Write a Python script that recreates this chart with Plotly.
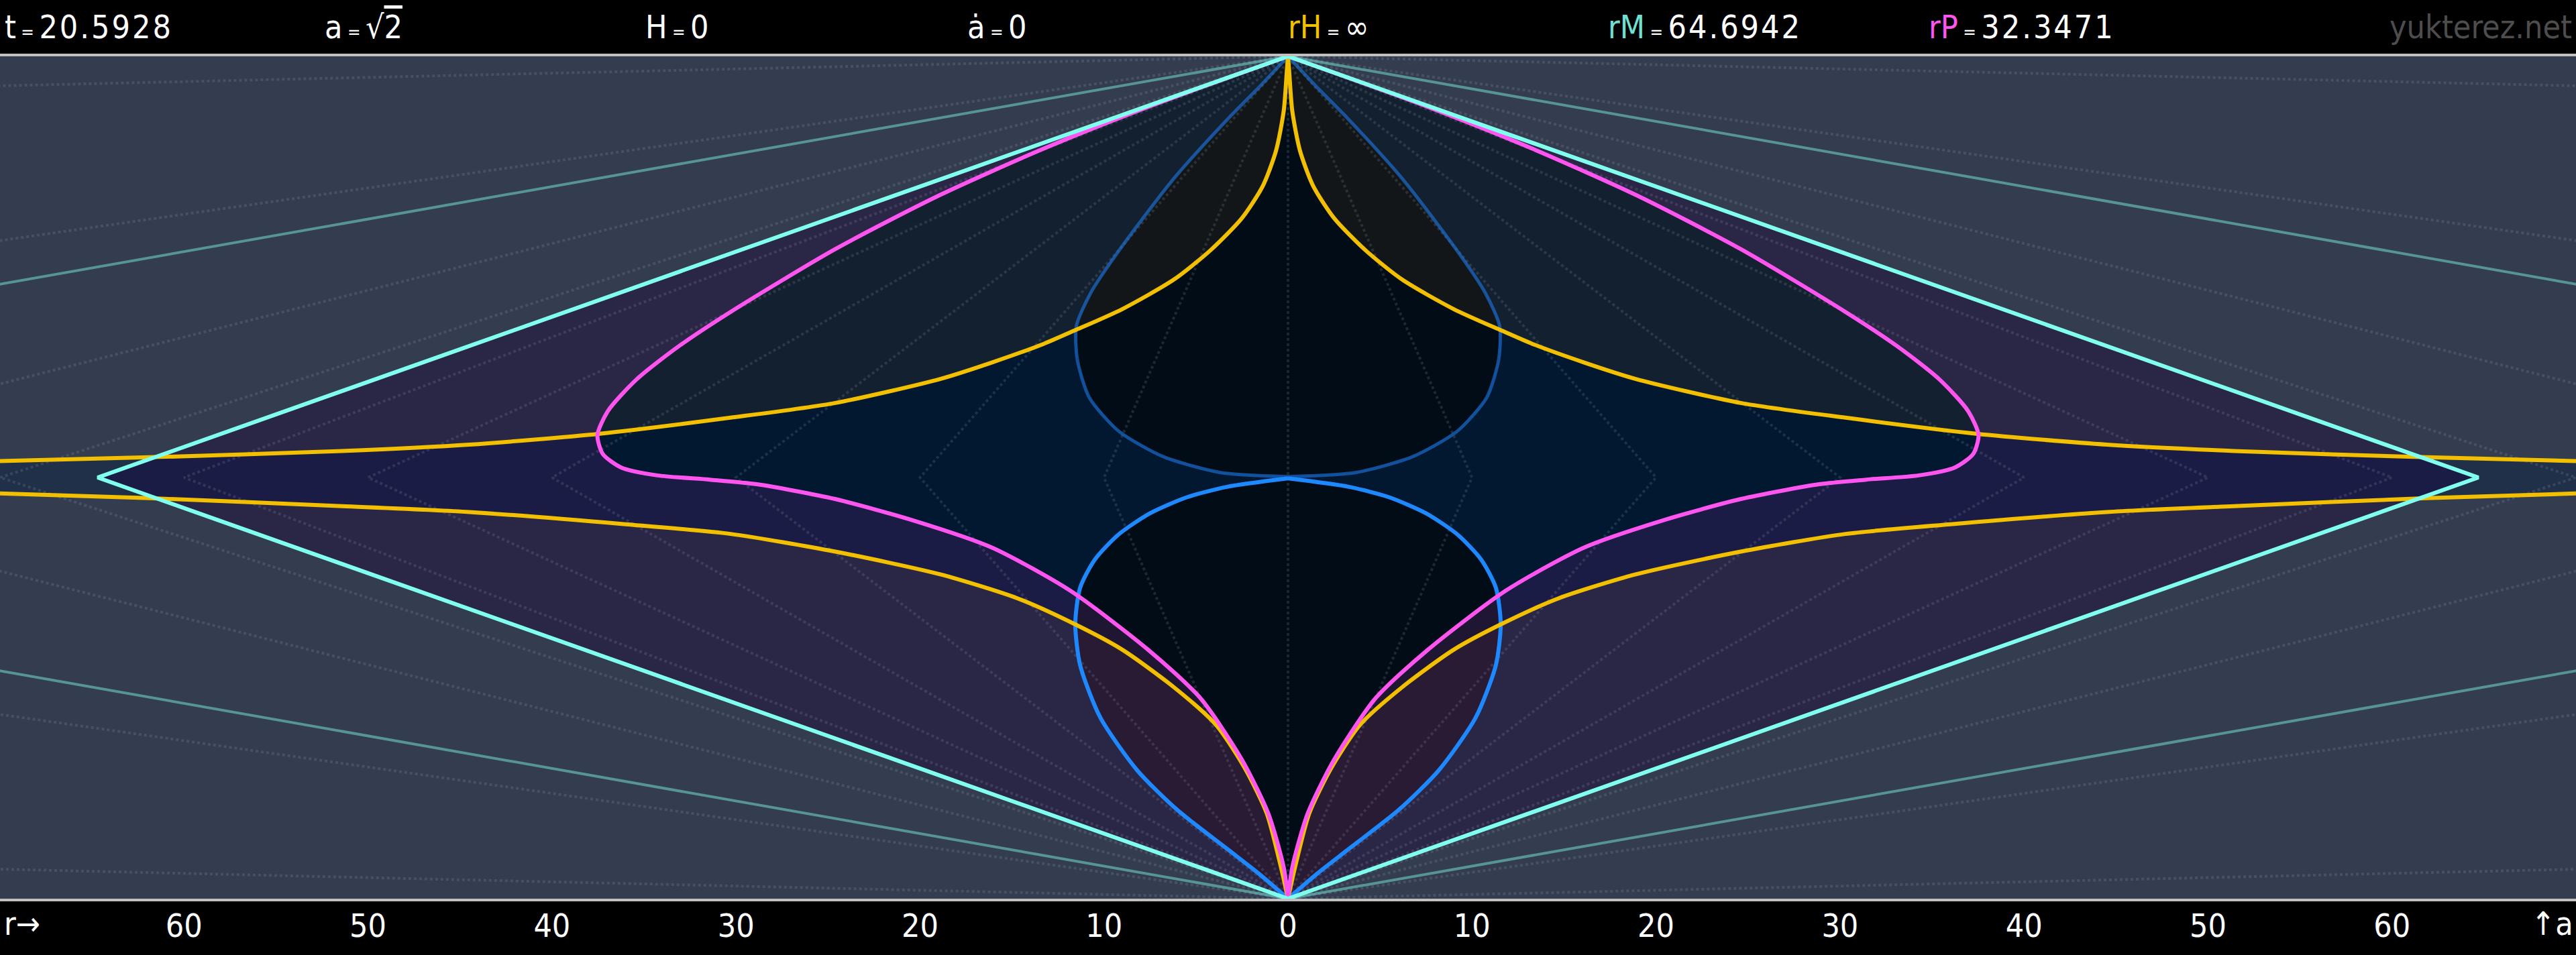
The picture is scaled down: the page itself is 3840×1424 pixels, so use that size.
import numpy as np
import plotly.graph_objects as go

# ---------------- header / axis values ----------------
HEADER_NAMES = ["t", "a", "H", "ȧ", "rH", "rM", "rP"]
HEADER_VALUES = ["20.5928", "√<span style='text-decoration:overline'>2</span>", "0", "0", "∞", "64.6942", "32.3471"]
HEADER_NAME_COLORS = ["#ffffff", "#ffffff", "#ffffff", "#ffffff", "#f2c000", "#6fe0d2", "#ff55f0"]
HEADER_X_PX = [5, 482, 960, 1440, 1918, 2395, 2873]
WATERMARK = "yukterez.net"

TICK_VALS = [-60, -50, -40, -30, -20, -10, 0, 10, 20, 30, 40, 50, 60]
TICK_TEXT = ["60", "50", "40", "30", "20", "10", "0", "10", "20", "30", "40", "50", "60"]
X_RANGE = [-70, 70]
V_RANGE = [-1, 1]

# ---------------- light-cone diamonds (half widths in r) ----------------
R_M = 64.6942          # cyan diamond
R_TEAL = 129.39        # outer teal cone
GRID_R = [10, 20, 30, 40, 50, 60, 70, 90, 160, 1000]

# ---------------- curves, left half (r <= 0), right half is mirrored ----------------
# upper yellow: left edge -> top vertex
YU_R = [-70, -61.9, -51.4, -44.5, -37.4, -30.3, -24.6, -18.9, -16.1, -13.3, -11.6, -9.0, -6.2, -4.2, -2.5, -1.36, -0.65, -0.23, -0.06, 0]
YU_V = [0.039, 0.048, 0.063, 0.078, 0.104, 0.142, 0.177, 0.234, 0.273, 0.317, 0.349, 0.400, 0.470, 0.540, 0.616, 0.693, 0.776, 0.871, 0.967, 1.0]
# lower yellow: left edge -> bottom vertex
YL_R = [-70, -61.9, -51.4, -44.5, -36.0, -30.3, -24.6, -18.9, -14.7, -11.6, -9.0, -6.2, -3.9, -2.35, -1.15, -0.38, 0]
YL_V = [-0.038, -0.049, -0.068, -0.082, -0.111, -0.134, -0.176, -0.230, -0.287, -0.348, -0.409, -0.498, -0.588, -0.690, -0.798, -0.926, -1.0]
# pink: top vertex -> nose -> bottom vertex
PK_R = [0, -7.6, -13.27, -18.95, -24.62, -30.3, -33.13, -35.4, -36.96, -37.53, -37.24, -36.25, -34.27, -31.43, -28.87, -24.62, -20.36, -16.11, -11.86, -7.60, -4.76, -2.49, -1.07, -0.23, 0]
PK_V = [1, 0.880, 0.781, 0.670, 0.542, 0.393, 0.311, 0.233, 0.158, 0.1006, 0.056, 0.024, 0.005, -0.005, -0.016, -0.051, -0.102, -0.166, -0.268, -0.409, -0.524, -0.671, -0.798, -0.926, -1]
# upper teardrop (dim blue): top vertex -> widest -> bottom (centre)
TU_R = [0, -1.5, -3.3, -6.2, -9.0, -10.7, -11.5, -11.45, -10.8, -9.2, -6.8, -3.7, 0]
TU_V = [1.0, 0.93, 0.85, 0.71, 0.55, 0.44, 0.36, 0.28, 0.19, 0.11, 0.05, 0.012, 0.002]
# lower teardrop (bright blue): top (centre) -> widest -> bottom vertex
TL_R = [0, -3.3, -5.5, -7.5, -9.2, -10.5, -11.3, -11.56, -11.3, -10.2, -8.2, -6.0, -3.3, -1.6, 0]
TL_V = [-0.002, -0.022, -0.047, -0.085, -0.135, -0.195, -0.262, -0.348, -0.445, -0.57, -0.695, -0.79, -0.882, -0.94, -1.0]

# ---------------- colours ----------------
BG = "#333d4f"
BAND_OUT = "#213049"
D_COL = "#2a2646"
D_BAND = "#1a1c45"
PINK_COL = "#13202f"
PINK_BAND = "#011830"
TU_COL = "#121619"
T_BAND = "#020c17"
TL_COL = "#291b33"
TL_BAND = "#1e1633"

CYAN = "#80ffee"
TEAL = "rgba(128,255,238,0.45)"
PINK = "#ff55f0"
YELLOW = "#f2c000"
BLUE = "#1e88ff"
BLUE_DIM = "rgba(30,120,230,0.6)"
GRID_COL = "rgba(175,185,205,0.16)"
FRAME = "#c0c0c0"
FONT = "DejaVu Sans Condensed, Liberation Sans, sans-serif"

# ---------------- region profiles ----------------
G = np.linspace(X_RANGE[0], X_RANGE[1], 2801)


def arc_profile(rs, vs):
    rs = np.asarray(rs, float)
    vs = np.asarray(vs, float)
    o = np.argsort(rs, kind="stable")
    rs, vs = rs[o], vs[o]
    x = -np.abs(G)
    out = np.interp(x, rs, vs)
    out[(x < rs[0] - 1e-9) | (x > rs[-1] + 1e-9)] = np.nan
    return out


def closed_profile(rs, vs):
    i = int(np.argmin(rs))
    hi = arc_profile(rs[:i + 1], vs[:i + 1])
    lo = arc_profile(rs[i:], vs[i:])
    return lo, hi


def inter(*regs):
    lo = regs[0][0].copy()
    hi = regs[0][1].copy()
    for l, h in regs[1:]:
        lo = np.maximum(lo, l)
        hi = np.minimum(hi, h)
    return lo, hi


def region_xy(reg):
    lo, hi = reg
    with np.errstate(invalid="ignore"):
        ok = lo < hi
    idx = np.where(ok)[0]
    xs, ys = [], []
    if len(idx) == 0:
        return xs, ys
    runs = np.split(idx, np.where(np.diff(idx) > 1)[0] + 1)
    for run in runs:
        xr = G[run]
        xs += list(xr) + list(xr[::-1]) + [None]
        ys += list(hi[run]) + list(lo[run][::-1]) + [None]
    return xs, ys


d_hi = 1 - np.abs(G) / R_M
d_hi[np.abs(G) > R_M] = np.nan
REG_D = (-d_hi, d_hi)
REG_BAND = (arc_profile(YL_R, YL_V), arc_profile(YU_R, YU_V))
REG_PINK = closed_profile(PK_R, PK_V)
REG_TU = closed_profile(TU_R, TU_V)
REG_TL = closed_profile(TL_R, TL_V)

fig = go.Figure()


def add_fill(reg, color):
    xs, ys = region_xy(reg)
    fig.add_trace(go.Scatter(x=xs, y=ys, mode="lines", fill="toself", fillcolor=color,
                             line=dict(width=0), hoverinfo="skip", showlegend=False))


add_fill(REG_BAND, BAND_OUT)
add_fill(REG_D, D_COL)
add_fill(inter(REG_D, REG_BAND), D_BAND)
add_fill(REG_PINK, PINK_COL)
add_fill(inter(REG_PINK, REG_BAND), PINK_BAND)
add_fill(REG_TU, TU_COL)
add_fill(inter(REG_TU, REG_BAND), T_BAND)
add_fill(REG_TL, TL_COL)
add_fill(inter(REG_TL, REG_BAND), TL_BAND)
add_fill(inter(REG_TL, REG_PINK), T_BAND)


# ---------------- lines ----------------
def diamond(R):
    return [0, -R, 0, R, 0, None], [1, 0, -1, 0, 1, None]


gx, gy = [0, 0, None], [-1, 1, None]
for R in GRID_R:
    dx, dy = diamond(R)
    gx += dx
    gy += dy
fig.add_trace(go.Scatter(x=gx, y=gy, mode="lines", line=dict(color=GRID_COL, width=4, dash="dot"),
                         hoverinfo="skip", showlegend=False))

tx, ty = diamond(R_TEAL)
fig.add_trace(go.Scatter(x=tx, y=ty, mode="lines", line=dict(color=TEAL, width=4),
                         hoverinfo="skip", showlegend=False))


def sym_curve(rs, vs, color, width, smooth=0.7):
    xs = list(rs) + [None] + [-r for r in rs]
    ys = list(vs) + [None] + list(vs)
    fig.add_trace(go.Scatter(x=xs, y=ys, mode="lines",
                             line=dict(color=color, width=width, shape="spline", smoothing=smooth),
                             hoverinfo="skip", showlegend=False))


sym_curve(TU_R, TU_V, BLUE_DIM, 5)
sym_curve(TL_R, TL_V, BLUE, 6)
sym_curve(YU_R, YU_V, YELLOW, 6)
sym_curve(YL_R, YL_V, YELLOW, 6)
sym_curve(PK_R, PK_V, PINK, 6)

cx, cy = diamond(R_M)
fig.add_trace(go.Scatter(x=cx, y=cy, mode="lines", line=dict(color=CYAN, width=6),
                         hoverinfo="skip", showlegend=False))

# ---------------- text ----------------
W, H = 3840, 1424
T_M, B_M = 84, 84
PH = H - T_M - B_M
EQ = "<span style='font-size:26px'> = </span>"
SP = "<span style='letter-spacing:3px'>{}</span>"
ann = []
for name, val, col, xp in zip(HEADER_NAMES, HEADER_VALUES, HEADER_NAME_COLORS, HEADER_X_PX):
    txt = f"<span style='color:{col}'>{name}</span>{EQ}" + (SP.format(val) if "span" not in val else val)
    ann.append(dict(text=txt, x=xp / W, y=1 + 44 / PH, xref="paper", yref="paper",
                    xanchor="left", yanchor="middle", showarrow=False,
                    font=dict(family=FONT, size=48, color="#ffffff")))
ann.append(dict(text=WATERMARK, x=3836 / W, y=1 + 44 / PH, xref="paper", yref="paper",
                xanchor="right", yanchor="middle", showarrow=False,
                font=dict(family=FONT, size=48, color="#4d4d4d")))
ann.append(dict(text="r→", x=4 / W, y=-37 / PH, xref="paper", yref="paper",
                xanchor="left", yanchor="middle", showarrow=False,
                font=dict(family=FONT, size=48, color="#ffffff")))
ann.append(dict(text="↑a", x=3838 / W, y=-37 / PH, xref="paper", yref="paper",
                xanchor="right", yanchor="middle", showarrow=False,
                font=dict(family=FONT, size=48, color="#ffffff")))

shapes = [
    dict(type="line", xref="paper", yref="paper", x0=0, x1=1, y0=1 + 2 / PH, y1=1 + 2 / PH,
         line=dict(color=FRAME, width=4)),
    dict(type="line", xref="paper", yref="paper", x0=0, x1=1, y0=-2 / PH, y1=-2 / PH,
         line=dict(color=FRAME, width=4)),
]

fig.update_layout(
    width=W, height=H,
    margin=dict(l=0, r=0, t=T_M, b=B_M, pad=0),
    paper_bgcolor="#000000", plot_bgcolor=BG,
    showlegend=False,
    xaxis=dict(range=X_RANGE, tickvals=TICK_VALS, ticktext=TICK_TEXT, showgrid=False,
               zeroline=False, showline=False, ticks="", ticklabelstandoff=8,
               tickfont=dict(family=FONT, size=48, color="#ffffff"), fixedrange=True),
    yaxis=dict(range=V_RANGE, visible=False, fixedrange=True),
    annotations=ann, shapes=shapes,
)

fig.write_html("out.html", config={"displayModeBar": False},
               post_script="document.body.style.margin='0';document.body.style.overflow='hidden';")
